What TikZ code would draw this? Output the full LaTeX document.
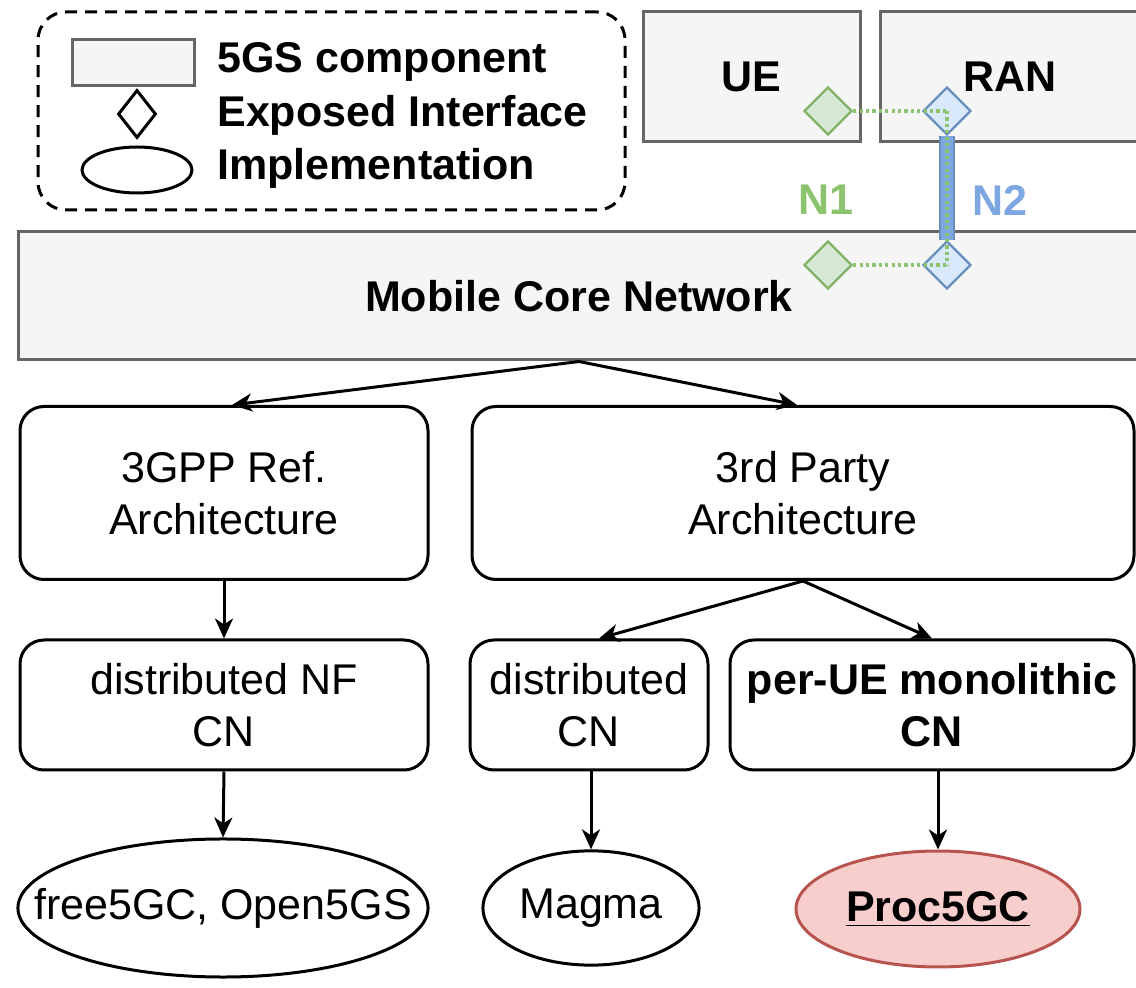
\documentclass[tikz,border=0pt]{standalone}
\usepackage{fontspec}
\setmainfont{Liberation Sans}
\usetikzlibrary{shapes.geometric,arrows.meta}
\definecolor{compfill}{HTML}{F5F5F5}
\definecolor{compline}{HTML}{666666}
\definecolor{ifgreen}{HTML}{82B366}
\definecolor{ifgreenfill}{HTML}{D5E8D4}
\definecolor{ifgreentext}{HTML}{8CC46E}
\definecolor{ifblue}{HTML}{6C8EBF}
\definecolor{ifbluefill}{HTML}{DAE8FC}
\definecolor{ifbluetext}{HTML}{7EA6E0}
\definecolor{implred}{HTML}{B85450}
\definecolor{implredfill}{HTML}{F8CECC}
\newcommand{\diagfont}{\fontsize{21.5}{26}\selectfont}
\tikzset{
  comp/.style={draw=compline, fill=compfill, line width=1.5pt, inner sep=0pt, font=\diagfont\bfseries},
  archbox/.style={draw=black, rounded corners=12pt, line width=1.5pt, inner sep=0pt, align=center},
  impl/.style={draw=black, ellipse, line width=1.5pt, inner sep=0pt},
  ifgreen/.style={diamond, draw=ifgreen, fill=ifgreenfill, line width=1.2pt, inner sep=0pt, minimum width=24pt, minimum height=24pt},
  ifblue/.style={diamond, draw=ifblue, fill=ifbluefill, line width=1.2pt, inner sep=0pt, minimum width=24pt, minimum height=24pt},
  dotlink/.style={draw=ifgreentext, line width=2pt, dash pattern=on 1.6pt off 1.6pt},
  arr/.style={draw=black, line width=1.5pt, -{Stealth[length=10pt,width=9pt,inset=3pt]}},
  legtext/.style={anchor=west, font=\diagfont\bfseries, inner sep=0pt},
}
\begin{document}
\begin{tikzpicture}[x=0.5pt, y=-0.5pt, font=\diagfont]
\useasboundingbox (0,0) rectangle (1136,988);
\clip (0,0) rectangle (1136,988);

% legend
\node[draw=black, dash pattern=on 6pt off 4pt, rounded corners=14pt, line width=1.5pt,
      minimum width=293.5pt, minimum height=99pt, inner sep=0pt] (legend) at (331.5,111) {};
\node[comp, minimum width=61pt, minimum height=23pt] (legcomp) at (133,63) {};
\node[diamond, draw=black, line width=1.5pt, inner sep=0pt, minimum width=19pt, minimum height=24pt] (legif) at (137,114) {};
\node[impl, minimum width=55pt, minimum height=23pt] (legimpl) at (137,170) {};
\node[legtext] (legcompt) at (217,62) {5GS component};
\node[legtext] (legift) at (217,115) {Exposed Interface};
\node[legtext] (legimplt) at (217,168) {Implementation};

% 5GS components
\node[comp, minimum width=108.5pt, minimum height=65pt] (ue) at (751.5,77) {UE};
\node[comp, minimum width=130pt, minimum height=65pt] (ran) at (1010,77) {RAN};
\node[comp, minimum width=561pt, minimum height=64pt] (mcn) at (579,296) {Mobile Core Network};

% exposed interfaces
\node[ifgreen] (gue) at (828,111) {};
\node[ifblue] (bran) at (947,111) {};
\node[ifgreen] (gcn) at (828,265) {};
\node[ifblue] (bcn) at (947,265) {};
\draw[draw=ifblue, double=ifbluetext, double distance=6pt, line width=1pt] (bran.south) -- (bcn.north);
\draw[dotlink] (gue.east) -- (bran.center);
\draw[dotlink] (gcn.east) -- (bcn.center);
\draw[dotlink] (bran.center) -- (bcn.center);
\node[font=\diagfont\bfseries, text=ifgreentext] (n1) at (826,200) {N1};
\node[font=\diagfont\bfseries, text=ifbluetext] (n2) at (1000,200) {N2};

% architectures
\node[archbox, minimum width=204pt, minimum height=86.5pt] (a3gpp) at (224,493) {3GPP Ref.\\Architecture};
\node[archbox, minimum width=331pt, minimum height=86.5pt] (a3rd) at (803,493) {3rd Party\\Architecture};

% core network designs
\node[archbox, minimum width=204pt, minimum height=65pt] (dnf) at (224,705) {distributed NF\\CN};
\node[archbox, minimum width=119pt, minimum height=65pt] (dcn) at (589,705) {distributed\\CN};
\node[archbox, minimum width=202pt, minimum height=65pt, font=\diagfont\bfseries] (pue) at (932,705) {per-UE monolithic\\CN};

% implementations (radii set through the inner separations of empty ellipse nodes)
\node[impl, inner xsep=72.5pt, inner ysep=24.4pt] (free) at (223,908) {};
\node (freet) at (free.center) {free5GC, Open5GS};
\node[impl, inner xsep=38.2pt, inner ysep=20.2pt] (magma) at (591,908) {};
\node (magmat) at (magma.center) {Magma};
\node[impl, draw=implred, fill=implredfill, inner xsep=50.2pt, inner ysep=20.5pt] (proc) at (938,909) {};
\node[font=\diagfont\bfseries] (proct) at (proc.center) {\underline{Proc5GC}};

% hierarchy
\draw[arr] (mcn.south) -- ([xshift=4pt]a3gpp.north);
\draw[arr] (mcn.south) -- ([xshift=-3pt]a3rd.north);
\draw[arr] (a3gpp.south) -- (dnf.north);
\draw[arr] (a3rd.south) -- ([xshift=5pt]dcn.north);
\draw[arr] (a3rd.south) -- (pue.north);
\draw[arr] (dnf.south) -- (free.north);
\draw[arr] (magma.north |- dcn.south) -- (magma.north);
\draw[arr] (proc.north |- pue.south) -- (proc.north);
\end{tikzpicture}
\end{document}
